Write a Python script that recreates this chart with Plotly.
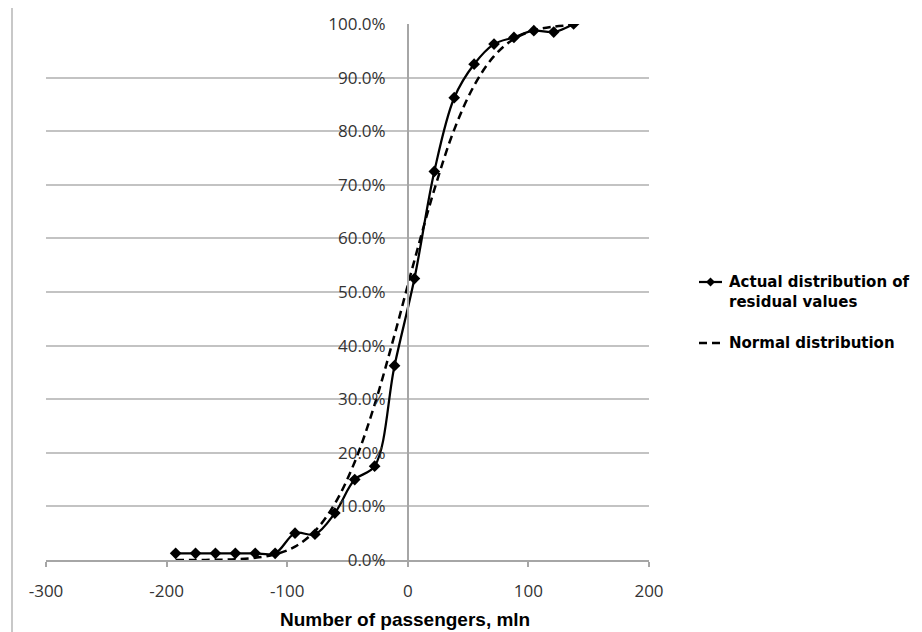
import plotly.graph_objects as go

# Residuals (mln passengers) and cumulative shares, %
residual_x = [-192.5, -176.0, -159.5, -143.0, -126.5, -110.0, -93.5, -77.0, -60.5, -44.0,
              -27.5, -11.0, 5.5, 22.0, 38.5, 55.0, 71.5, 88.0, 104.5, 121.0, 137.5]
actual_pct = [1.25, 1.25, 1.25, 1.25, 1.25, 1.25, 5.0, 4.8, 8.75, 15.0,
              17.5, 36.25, 52.5, 72.5, 86.25, 92.5, 96.25, 97.5, 98.75, 98.5, 100.0]
normal_pct = [0.0, 0.01, 0.04, 0.13, 0.4, 1.05, 2.5, 5.4, 10.5, 18.3,
              29.0, 42.0, 55.9, 69.1, 80.3, 88.5, 94.0, 97.2, 98.8, 99.5, 99.8]

x_ticks = [-300, -200, -100, 0, 100, 200]
y_ticks = [0, 10, 20, 30, 40, 50, 60, 70, 80, 90, 100]
x_tick_text = [str(v) for v in x_ticks]
y_tick_text = [f"{v:.1f}%" for v in y_ticks]

legend_actual = "Actual distribution of<br>residual values"
legend_normal = "Normal distribution"
x_title = "Number of passengers, mln"

W, H = 922, 632
L, R, T, B = 46, 273, 24, 72
PW, PH = W - L - R, H - T - B


def px_x(p):
    return (p - L) / PW


def px_y(p):
    return (H - B - p) / PH


fig = go.Figure()

fig.add_trace(go.Scatter(
    x=residual_x, y=normal_pct, mode="lines", name="Normal distribution",
    line=dict(color="black", width=2.5, dash="8px,5px", shape="spline"),
    showlegend=False, hoverinfo="skip",
))
fig.add_trace(go.Scatter(
    x=residual_x, y=actual_pct, mode="lines+markers", name="Actual distribution of residual values",
    line=dict(color="black", width=2.25, shape="spline"),
    marker=dict(symbol="diamond", size=9, color="black"),
    showlegend=False,
))

grid = "#c3c3c3"
axis_grey = "#a6a6a6"
tick_font = dict(family="Open Sans", size=17, color="#333333")

fig.update_layout(
    width=W, height=H,
    margin=dict(l=L, r=R, t=T, b=B),
    paper_bgcolor="white", plot_bgcolor="white",
    showlegend=False,
    xaxis=dict(
        range=[-300, 200], tickvals=x_ticks, ticktext=x_tick_text,
        showgrid=False, zeroline=False,
        showline=True, linecolor=axis_grey, linewidth=1.5,
        ticks="outside", ticklen=5, tickwidth=1.5, tickcolor=axis_grey,
        tickfont=tick_font, ticklabelstandoff=10,
    ),
    yaxis=dict(
        range=[0, 100], tickvals=y_ticks, ticktext=y_tick_text,
        showgrid=True, gridcolor=grid, gridwidth=1.5, zeroline=False,
        showline=True, linecolor=axis_grey, linewidth=1.5,
        anchor="free", position=0.6, side="left",
        ticks="", tickfont=tick_font, ticklabelstandoff=18,
    ),
)

shapes = [
    # thin border on the left edge of the chart area
    dict(type="line", xref="paper", yref="paper",
         x0=px_x(12), x1=px_x(12), y0=px_y(H), y1=px_y(8),
         line=dict(color="#c8c8c8", width=2)),
    # legend keys
    dict(type="line", xref="paper", yref="paper",
         x0=px_x(699), x1=px_x(722), y0=px_y(282), y1=px_y(282),
         line=dict(color="black", width=2.25)),
    dict(type="path", xref="paper", yref="paper",
         xsizemode="pixel", ysizemode="pixel",
         xanchor=px_x(710.5), yanchor=px_y(282),
         path="M 0 4.5 L 4.5 0 L 0 -4.5 L -4.5 0 Z",
         fillcolor="black", line=dict(color="black", width=0)),
    dict(type="line", xref="paper", yref="paper",
         x0=px_x(699), x1=px_x(722), y0=px_y(343), y1=px_y(343),
         line=dict(color="black", width=2.5, dash="8px,5px")),
]
fig.update_layout(shapes=shapes)

legend_font = dict(family="DejaVu Sans", size=15, color="black", weight="bold")
fig.add_annotation(xref="paper", yref="paper", x=px_x(727), y=px_y(292),
                   xanchor="left", yanchor="middle", align="left",
                   text=legend_actual, showarrow=False, font=legend_font)
fig.add_annotation(xref="paper", yref="paper", x=px_x(727), y=px_y(343),
                   xanchor="left", yanchor="middle", align="left",
                   text=legend_normal, showarrow=False, font=legend_font)
fig.add_annotation(xref="paper", yref="paper", x=px_x(405), y=px_y(619),
                   xanchor="center", yanchor="middle",
                   text=x_title, showarrow=False,
                   font=dict(family="Liberation Sans", size=19, color="black", weight="bold"))

fig.write_html("out.html")
